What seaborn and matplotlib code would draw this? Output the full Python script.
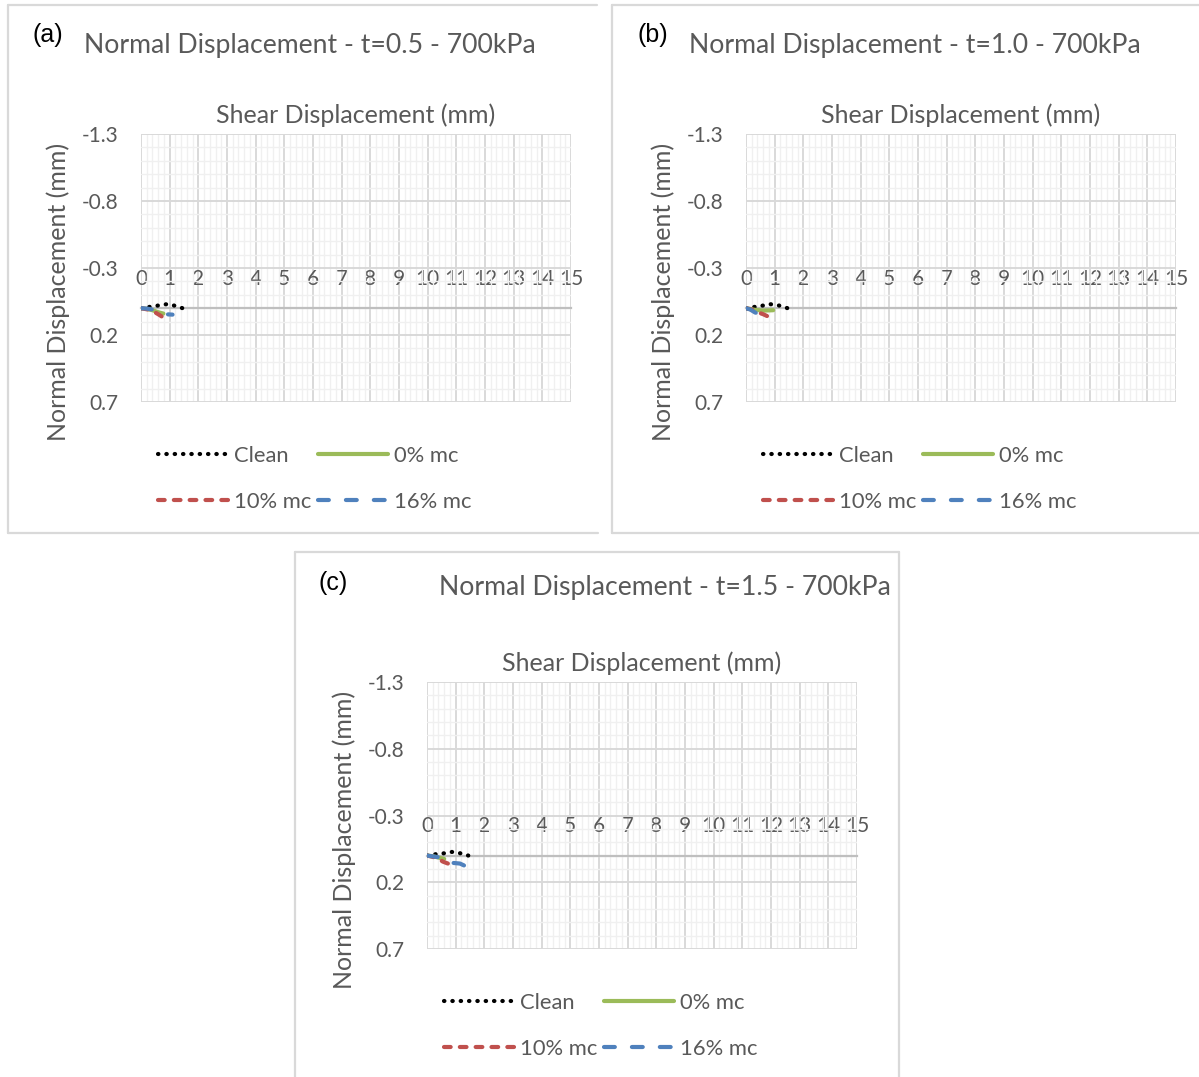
import numpy as np
import pandas as pd
import matplotlib
matplotlib.use("Agg")
import matplotlib.pyplot as plt
from matplotlib.lines import Line2D
from matplotlib.ticker import FixedLocator, MultipleLocator
import seaborn as sns

sns.set_theme(style="white")
plt.rcParams["font.family"] = ["Lato", "DejaVu Sans"]

# ---- data (shear displacement in mm, normal displacement in mm) ----
series_names = ["Clean", "0% mc", "10% mc", "16% mc"]
x_ticks = list(range(0, 16))
y_ticks = [-1.3, -0.8, -0.3, 0.2, 0.7]

# t = 0.5
clean_x_a = [0.0, 0.3, 0.6, 0.9, 1.15, 1.45]
clean_y_a = [0.0, -0.01, -0.02, -0.03, -0.02, 0.0]
mc0_x_a = [0.0, 0.2, 0.4, 0.6, 0.78]
mc0_y_a = [0.0, 0.005, 0.015, 0.03, 0.04]
mc10_x_a = [0.0, 0.2, 0.4, 0.6, 0.8]
mc10_y_a = [0.0, 0.008, 0.02, 0.045, 0.072]
mc16_x_a = [0.0, 0.2, 0.4, 0.6, 0.85, 1.1]
mc16_y_a = [0.0, 0.003, 0.01, 0.025, 0.045, 0.048]

# t = 1.0
clean_x_b = [0.0, 0.3, 0.6, 0.85, 1.15, 1.45]
clean_y_b = [0.0, -0.01, -0.02, -0.03, -0.02, 0.0]
mc0_x_b = [0.0, 0.3, 0.6, 0.95]
mc0_y_b = [0.0, 0.012, 0.018, 0.015]
mc10_x_b = [0.0, 0.2, 0.4, 0.6, 0.8]
mc10_y_b = [0.0, 0.01, 0.03, 0.045, 0.065]
mc16_x_b = [0.0, 0.15, 0.3, 0.45]
mc16_y_b = [0.0, 0.01, 0.03, 0.045]

# t = 1.5
clean_x_c = [0.0, 0.3, 0.6, 0.87, 1.16, 1.44]
clean_y_c = [0.0, -0.01, -0.017, -0.027, -0.017, 0.0]
mc0_x_c = [0.0, 0.2, 0.4, 0.6]
mc0_y_c = [0.0, 0.005, 0.015, 0.025]
mc10_x_c = [0.0, 0.2, 0.4, 0.55, 0.73]
mc10_y_c = [0.0, 0.01, 0.025, 0.045, 0.06]
mc16_x_c = [0.0, 0.25, 0.5, 0.7, 0.9, 1.15, 1.4]
mc16_y_c = [0.0, 0.008, 0.015, 0.035, 0.055, 0.06, 0.085]

panels = [
    ("(a)", "Normal Displacement - t=0.5 - 700kPa",
     [(clean_x_a, clean_y_a), (mc0_x_a, mc0_y_a), (mc10_x_a, mc10_y_a), (mc16_x_a, mc16_y_a)]),
    ("(b)", "Normal Displacement - t=1.0 - 700kPa",
     [(clean_x_b, clean_y_b), (mc0_x_b, mc0_y_b), (mc10_x_b, mc10_y_b), (mc16_x_b, mc16_y_b)]),
    ("(c)", "Normal Displacement - t=1.5 - 700kPa",
     [(clean_x_c, clean_y_c), (mc0_x_c, mc0_y_c), (mc10_x_c, mc10_y_c), (mc16_x_c, mc16_y_c)]),
]

palette = {"Clean": "#000000", "0% mc": "#9bbb59", "10% mc": "#c0504d", "16% mc": "#4f81bd"}
dashes = {"Clean": (0.1, 1.9), "0% mc": "", "10% mc": (1.6, 2.2), "16% mc": (2.6, 4.1)}

TXT = "#595959"
W, H = 1199, 1077
fig = plt.figure(figsize=(W / 100, H / 100), dpi=100)
fig.patch.set_facecolor("white")


def fig_line(x0, y0, x1, y1):
    fig.add_artist(Line2D([x0 / W, x1 / W], [1 - y0 / H, 1 - y1 / H],
                          transform=fig.transFigure, color="#d9d9d9", lw=1.6))


# panel frames
fig_line(8, 5, 597, 5); fig_line(8, 5, 8, 533); fig_line(8, 533, 598, 533)
fig_line(612, 5, 1199, 5); fig_line(612, 5, 612, 533); fig_line(612, 533, 1199, 533)
fig_line(295, 552, 899, 552); fig_line(295, 552, 295, 1077); fig_line(899, 552, 899, 1077)

# plot-area boxes (left, top, right, bottom) in pixels, plus label/title anchors
layout = [
    dict(box=(141, 134, 571, 402), tag=(33, 35), title=(310, 46)),
    dict(box=(746, 134, 1176, 402), tag=(637, 35), title=(915, 46)),
    dict(box=(427, 682, 857, 949), tag=(319, 583), title=(665, 587)),
]

for (tag, title, data), lay in zip(panels, layout):
    l, t, r, b = lay["box"]
    ax = fig.add_axes([l / W, 1 - b / H, (r - l) / W, (b - t) / H])

    frames = []
    for name, (xs, ys) in zip(series_names, data):
        frames.append(pd.DataFrame({"x": xs, "y": ys, "series": name}))
    df = pd.concat(frames, ignore_index=True)

    sns.lineplot(data=df, x="x", y="y", hue="series", style="series",
                 hue_order=series_names, style_order=series_names,
                 palette=palette, dashes=dashes, sort=False, estimator=None,
                 linewidth=3, legend=False, ax=ax)
    lines = ax.get_lines()
    for ln in lines:
        ln.set_dash_capstyle("round")
        ln.set_solid_capstyle("round")
        ln.set_zorder(4)

    ax.set_xlim(0, 15)
    ax.set_ylim(0.7, -1.3)
    ax.xaxis.set_major_locator(FixedLocator(x_ticks))
    ax.xaxis.set_minor_locator(MultipleLocator(0.2))
    ax.yaxis.set_major_locator(FixedLocator(y_ticks))
    ax.yaxis.set_minor_locator(FixedLocator(np.round(np.arange(-1.3, 0.71, 0.1), 2)))
    ax.set_yticklabels([f"{v:g}" for v in y_ticks])

    ax.grid(which="minor", color="#f0f0f0", lw=1.0, zorder=0)
    ax.grid(which="major", color="#d9d9d9", lw=1.4, zorder=1)
    ax.set_axisbelow(True)

    # horizontal axis sits at y = 0 with its labels above it
    ax.xaxis.tick_top()
    for s in ("left", "right", "bottom"):
        ax.spines[s].set_visible(False)
    ax.spines["top"].set_position(("data", 0))
    ax.spines["top"].set_color("#bfbfbf")
    ax.spines["top"].set_linewidth(1.6)
    ax.tick_params(axis="x", which="both", length=0, pad=14, labelsize=15, labelcolor=TXT)
    ax.tick_params(axis="y", which="both", length=0, pad=16, labelsize=15, labelcolor=TXT)

    ax.set_xlabel("")
    ax.set_ylabel("Normal Displacement (mm)", fontsize=18, color=TXT)
    ax.yaxis.set_label_coords(-0.165, 0.409)
    ax.set_title("Shear Displacement (mm)", fontsize=18, color=TXT, pad=8)

    handles = [lines[0], lines[2], lines[1], lines[3]]
    labels = ["Clean", "10% mc", "0% mc", "16% mc"]
    ax.legend(handles, labels, ncol=2, loc="upper left",
              bbox_to_anchor=(17 / (r - l), -(446 - 402) / (b - t)),
              frameon=False, fontsize=15.8, handlelength=3.2, handletextpad=0.25,
              columnspacing=0.32, labelspacing=1.19, borderpad=0, borderaxespad=0,
              labelcolor=TXT)

    tx, ty = lay["tag"]
    fig.text(tx / W, 1 - ty / H, tag, fontsize=18, color="black", ha="left", va="center",
             family=["Liberation Sans", "DejaVu Sans"])
    cx, cy = lay["title"]
    fig.text(cx / W, 1 - cy / H, title, fontsize=19.2, color=TXT, ha="center", va="center")

fig.savefig("out.png", dpi=100, facecolor="white")
